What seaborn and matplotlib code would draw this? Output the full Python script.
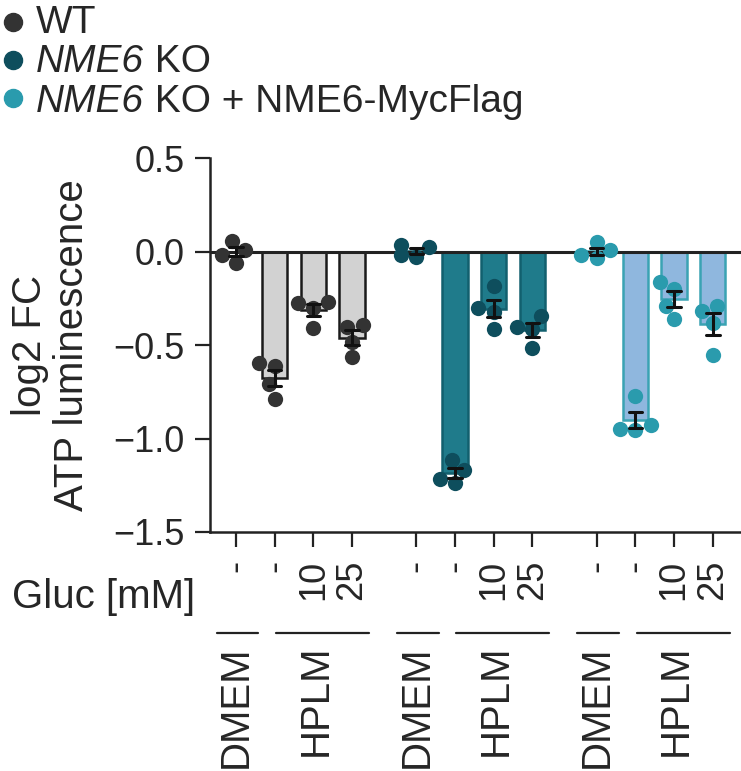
import pandas as pd
import seaborn as sns
import matplotlib.pyplot as plt
from matplotlib.lines import Line2D
import matplotlib.transforms as mtransforms

sns.set_style("ticks")
plt.rcParams["font.family"] = ["Liberation Sans", "DejaVu Sans"]

# data: log2 FC ATP luminescence, 4 replicates per condition
genotypes = ["WT", "NME6 KO", "NME6 KO + NME6-MycFlag"]
conditions = ["DMEM", "HPLM -", "HPLM 10", "HPLM 25"]
gluc_labels = ["-", "-", "10", "25"]

wt_vals = [
    [0.059, 0.009, -0.016, -0.059],
    [-0.613, -0.595, -0.710, -0.787],
    [-0.268, -0.277, -0.300, -0.410],
    [-0.405, -0.394, -0.482, -0.566],
]
ko_vals = [
    [0.036, 0.023, -0.027, -0.018],
    [-1.113, -1.170, -1.215, -1.238],
    [-0.184, -0.303, -0.322, -0.413],
    [-0.345, -0.402, -0.413, -0.518],
]
rescue_vals = [
    [0.050, 0.009, -0.018, -0.036],
    [-0.772, -0.952, -0.947, -0.930],
    [-0.202, -0.161, -0.291, -0.362],
    [-0.318, -0.291, -0.380, -0.555],
]

bar_face = ["#d2d2d2", "#1f7b8b", "#8fb7de"]
bar_edge = ["#1a1a1a", "#12606e", "#3aa3b3"]
dot_color = ["#333333", "#0e4e5d", "#2a9bad"]
group_step = 4.66

rows = []
for g, vals in enumerate([wt_vals, ko_vals, rescue_vals]):
    for c, reps in enumerate(vals):
        for v in reps:
            rows.append({"genotype": genotypes[g], "cond": conditions[c],
                         "pos": g * group_step + c, "val": v})
df = pd.DataFrame(rows)

fig = plt.figure(figsize=(7.41, 7.71), dpi=100)
ax = fig.add_axes([0.2834, 0.31, 0.7166, 0.485])

# bars with mean +/- SEM
for g, name in enumerate(genotypes):
    sub = df[df["genotype"] == name]
    sns.barplot(data=sub, x="pos", y="val", native_scale=True, orient="x",
                color=bar_face[g], edgecolor=bar_edge[g], linewidth=1.8,
                saturation=1, width=0.65, errorbar="se", capsize=0.35,
                err_kws={"color": "#111111", "linewidth": 2.2}, ax=ax)
for ln in ax.lines:
    ln.set_zorder(4)

ax.axhline(0, color="#222222", linewidth=2.2, zorder=2.5)

# individual replicates
for g, name in enumerate(genotypes):
    sub = df[df["genotype"] == name]
    sns.swarmplot(data=sub, x="pos", y="val", native_scale=True, orient="x",
                  color=dot_color[g], size=11, linewidth=0, zorder=3, ax=ax)

positions = sorted(df["pos"].unique())
ax.set_xlim(-0.67, 13.05)
ax.set_ylim(-1.5, 0.5)
ax.set_yticks([0.5, 0.0, -0.5, -1.0, -1.5])
ax.set_yticklabels(["0.5", "0.0", "\u22120.5", "\u22121.0", "\u22121.5"])
ax.set_xticks(positions)
ax.set_xticklabels(gluc_labels * 3, rotation=90, va="top", ha="center")
ax.tick_params(axis="y", labelsize=26, length=11, width=1.6, pad=7, color="#222222")
ax.tick_params(axis="x", labelsize=26, length=11, width=1.6, pad=9, color="#222222")
for s in ["top", "right"]:
    ax.spines[s].set_visible(False)
for s in ["left", "bottom"]:
    ax.spines[s].set_linewidth(1.8)
    ax.spines[s].set_color("#222222")
ax.set_xlabel("")
ax.set_ylabel("log2 FC\nATP luminescence", fontsize=29, labelpad=16, linespacing=1.15)

fig.text(195 / 741, 1 - 597 / 771, "Gluc [mM]", ha="right", va="center", fontsize=29)

# medium annotations under the axis
trans = mtransforms.blended_transform_factory(ax.transData, fig.transFigure)
line_y = 1 - 633 / 771
text_y = 1 - 645 / 771
for g in range(3):
    x0 = g * group_step
    fig.add_artist(Line2D([x0 - 0.5, x0 + 0.58], [line_y, line_y], transform=trans,
                          color="#222222", linewidth=1.6))
    fig.add_artist(Line2D([x0 + 1.03, x0 + 3.44], [line_y, line_y], transform=trans,
                          color="#222222", linewidth=1.6))
    fig.text(x0, text_y, "DMEM", transform=trans, rotation=90, ha="center", va="top", fontsize=29)
    fig.text(x0 + 2.05, text_y, "HPLM", transform=trans, rotation=90, ha="center", va="top", fontsize=29)

# legend (italic gene name followed by upright text)
legend_parts = [("", "WT"), ("NME6", " KO"), ("NME6", " KO + NME6-MycFlag")]
for i, (ital, rest) in enumerate(legend_parts):
    yb = 1 - (33 + 39.5 * i) / 771
    ym = 1 - (22 + 38 * i) / 771
    fig.add_artist(Line2D([12.5 / 741], [ym], marker="o", markersize=13, linestyle="none",
                          color=dot_color[i], transform=fig.transFigure))
    if ital:
        t1 = fig.text(36 / 741, yb, ital, ha="left", va="baseline", fontsize=28, fontstyle="italic")
        ax.annotate(rest, xy=(1, 0), xycoords=t1, ha="left", va="bottom",
                    fontsize=28, annotation_clip=False)
    else:
        fig.text(36 / 741, yb, rest, ha="left", va="baseline", fontsize=28)

fig.savefig("out.png", dpi=100)
